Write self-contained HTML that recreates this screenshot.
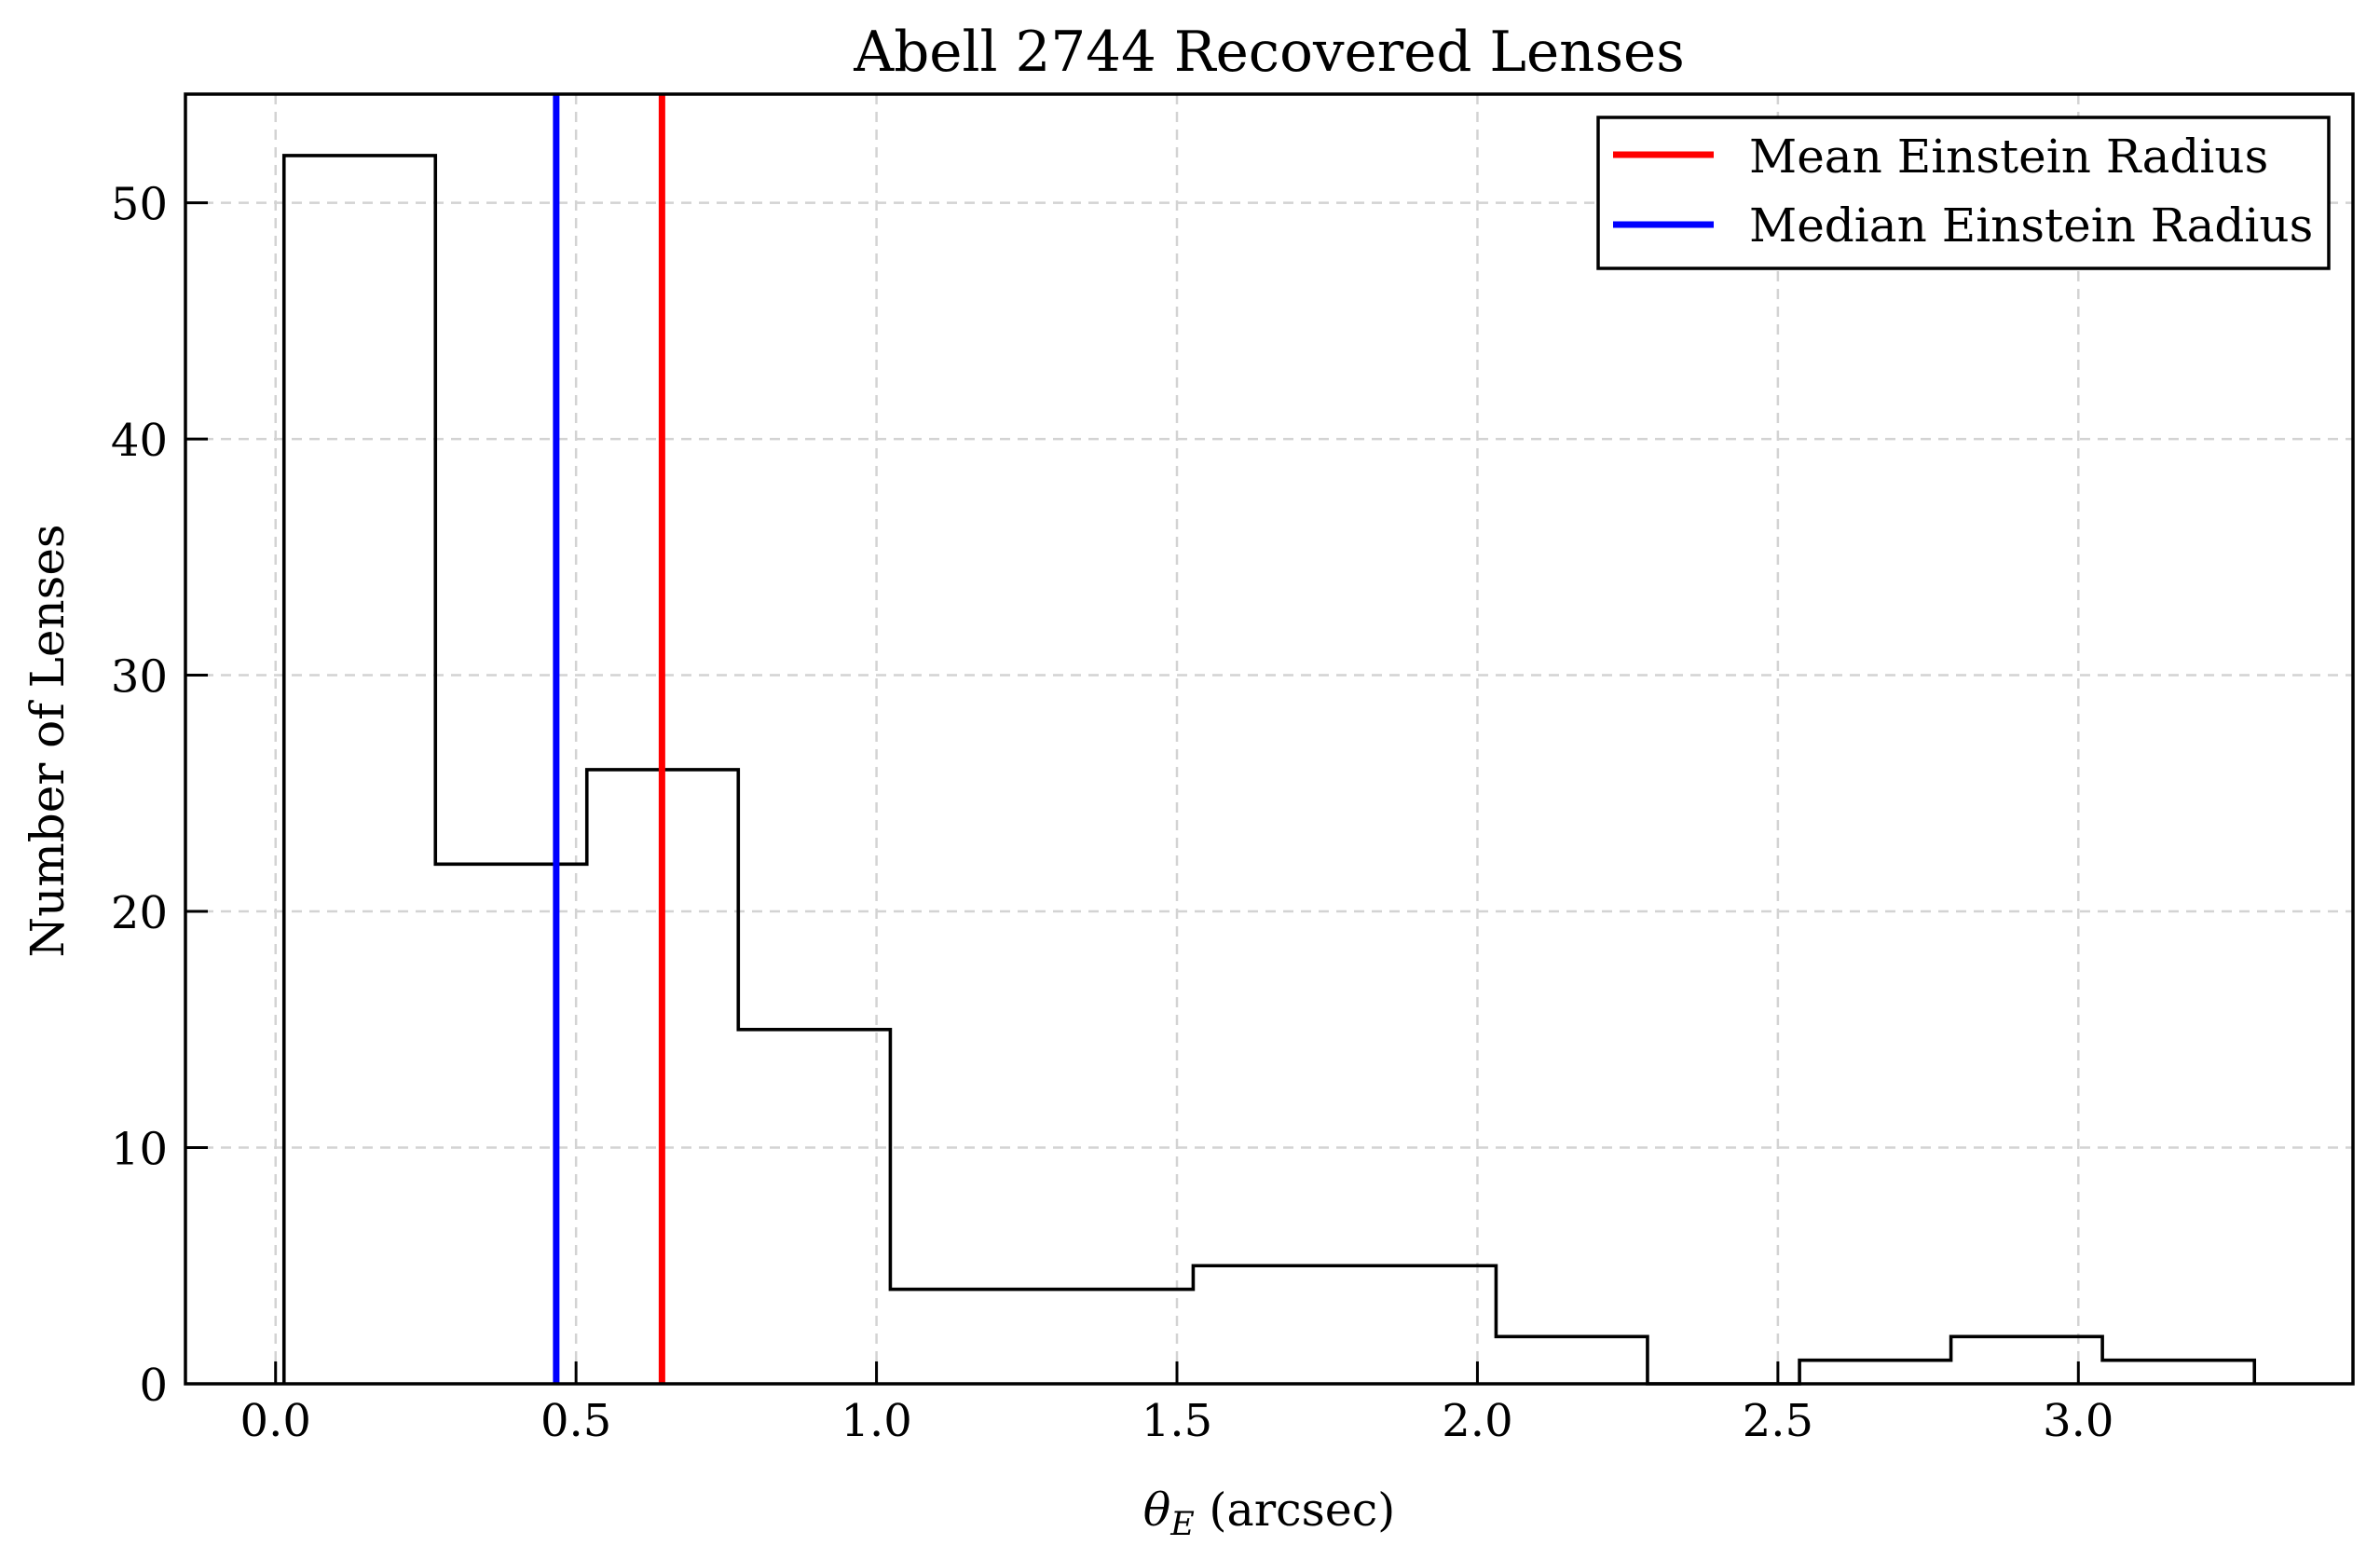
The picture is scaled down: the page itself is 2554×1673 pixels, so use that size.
<!DOCTYPE html>
<html><head><meta charset="utf-8"><style>
html,body{margin:0;padding:0;background:#fff}
svg{display:block}
text{font-family:"DejaVu Serif","Liberation Serif",serif;fill:#000}
</style></head><body>
<svg id="chart" width="2554" height="1673" viewBox="0 0 2554 1673" xmlns="http://www.w3.org/2000/svg">
<rect width="2554" height="1673" fill="#fff"/>
<g id="grid"></g>
<g id="bars"></g>
<g id="vlines"></g>
<g id="axes"></g>
<text x="1362" y="76" font-size="59.5" text-anchor="middle">Abell 2744 Recovered Lenses</text>
<text x="1362" y="1637" font-size="49" text-anchor="middle"><tspan font-style="italic">θ</tspan><tspan font-style="italic" font-size="35" dy="10">E</tspan><tspan dy="-10"> (arcsec)</tspan></text>
<text x="0" y="0" font-size="50" text-anchor="middle" transform="translate(68,795) rotate(-90)">Number of Lenses</text>
<g>
<rect x="1715" y="126" width="784" height="162" fill="#fff" stroke="#000" stroke-width="3.5"/>
<line x1="1731" y1="166" x2="1839" y2="166" stroke="#ff0000" stroke-width="7"/>
<text x="1877" y="185" font-size="50">Mean Einstein Radius</text>
<line x1="1731" y1="241" x2="1839" y2="241" stroke="#0000ff" stroke-width="7"/>
<text x="1877" y="259" font-size="50">Median Einstein Radius</text>
</g>
</svg>
<script>
const binEdges = [0.014, 0.266, 0.518, 0.770, 1.023, 1.275, 1.527, 1.779, 2.031, 2.283, 2.536, 2.788, 3.040, 3.293];
const counts = [52, 22, 26, 15, 4, 4, 5, 5, 2, 0, 1, 2, 1];
const meanValue = 0.643;
const medianValue = 0.467;
const xTicks = [0.0, 0.5, 1.0, 1.5, 2.0, 2.5, 3.0];
const xTickLabels = ["0.0", "0.5", "1.0", "1.5", "2.0", "2.5", "3.0"];
const yTicks = [0, 10, 20, 30, 40, 50];
const yTickLabels = ["0", "10", "20", "30", "40", "50"];

const L = 199, R = 2525, T = 101, B = 1485;
const xMin = -0.150, xMax = 3.457, yMin = 0, yMax = 54.6;
const xs = v => L + (v - xMin) / (xMax - xMin) * (R - L);
const ys = v => B - (v - yMin) / (yMax - yMin) * (B - T);
const NS = "http://www.w3.org/2000/svg";
function mk(tag, attrs, parent) {
  const e = document.createElementNS(NS, tag);
  for (const k in attrs) e.setAttribute(k, attrs[k]);
  parent.appendChild(e);
  return e;
}
const grid = document.getElementById('grid');
const bars = document.getElementById('bars');
const vlines = document.getElementById('vlines');
const axes = document.getElementById('axes');

xTicks.forEach((t, i) => {
  const g = mk('line', {x1: xs(t), x2: xs(t), y1: T, y2: B, stroke: '#d3d3d3', 'stroke-width': 2.5, 'stroke-dasharray': '11 8'}, grid);
  
  
});
yTicks.forEach((t, i) => {
  const g = mk('line', {x1: L, x2: R, y1: ys(t), y2: ys(t), stroke: '#d3d3d3', 'stroke-width': 2.5, 'stroke-dasharray': '11 8'}, grid);
  
  
});

let d = 'M' + xs(binEdges[0]) + ' ' + ys(0);
counts.forEach((c, i) => {
  d += ' L' + xs(binEdges[i]) + ' ' + ys(c) + ' L' + xs(binEdges[i + 1]) + ' ' + ys(c);
});
d += ' L' + xs(binEdges[binEdges.length - 1]) + ' ' + ys(0);
const p = mk('path', {d: d, fill: 'none', stroke: '#000', 'stroke-width': 3.6, 'stroke-linejoin': 'miter'}, bars);



const med = mk('line', {x1: xs(medianValue), x2: xs(medianValue), y1: T, y2: B, stroke: '#0000ff', 'stroke-width': 7}, vlines);


const mean = mk('line', {x1: xs(meanValue), x2: xs(meanValue), y1: T, y2: B, stroke: '#ff0000', 'stroke-width': 7}, vlines);



const frame = mk('rect', {x: L, y: T, width: R - L, height: B - T, fill: 'none', stroke: '#000', 'stroke-width': 3.5}, axes);



xTicks.forEach((t, i) => {
  const tk = mk('line', {x1: xs(t), x2: xs(t), y1: B, y2: B - 24, stroke: '#000', 'stroke-width': 3}, axes);
  
  
  const lb = mk('text', {x: xs(t), y: 1541, 'font-size': 48, 'text-anchor': 'middle'}, axes);
  lb.textContent = xTickLabels[i];
  
  
});
yTicks.forEach((t, i) => {
  const tk = mk('line', {x1: L, x2: L + 24, y1: ys(t), y2: ys(t), stroke: '#000', 'stroke-width': 3}, axes);
  
  
  const lb = mk('text', {x: 180, y: ys(t) + 18, 'font-size': 48, 'text-anchor': 'end'}, axes);
  lb.textContent = yTickLabels[i];
  
  
});
</script>
</body></html>
